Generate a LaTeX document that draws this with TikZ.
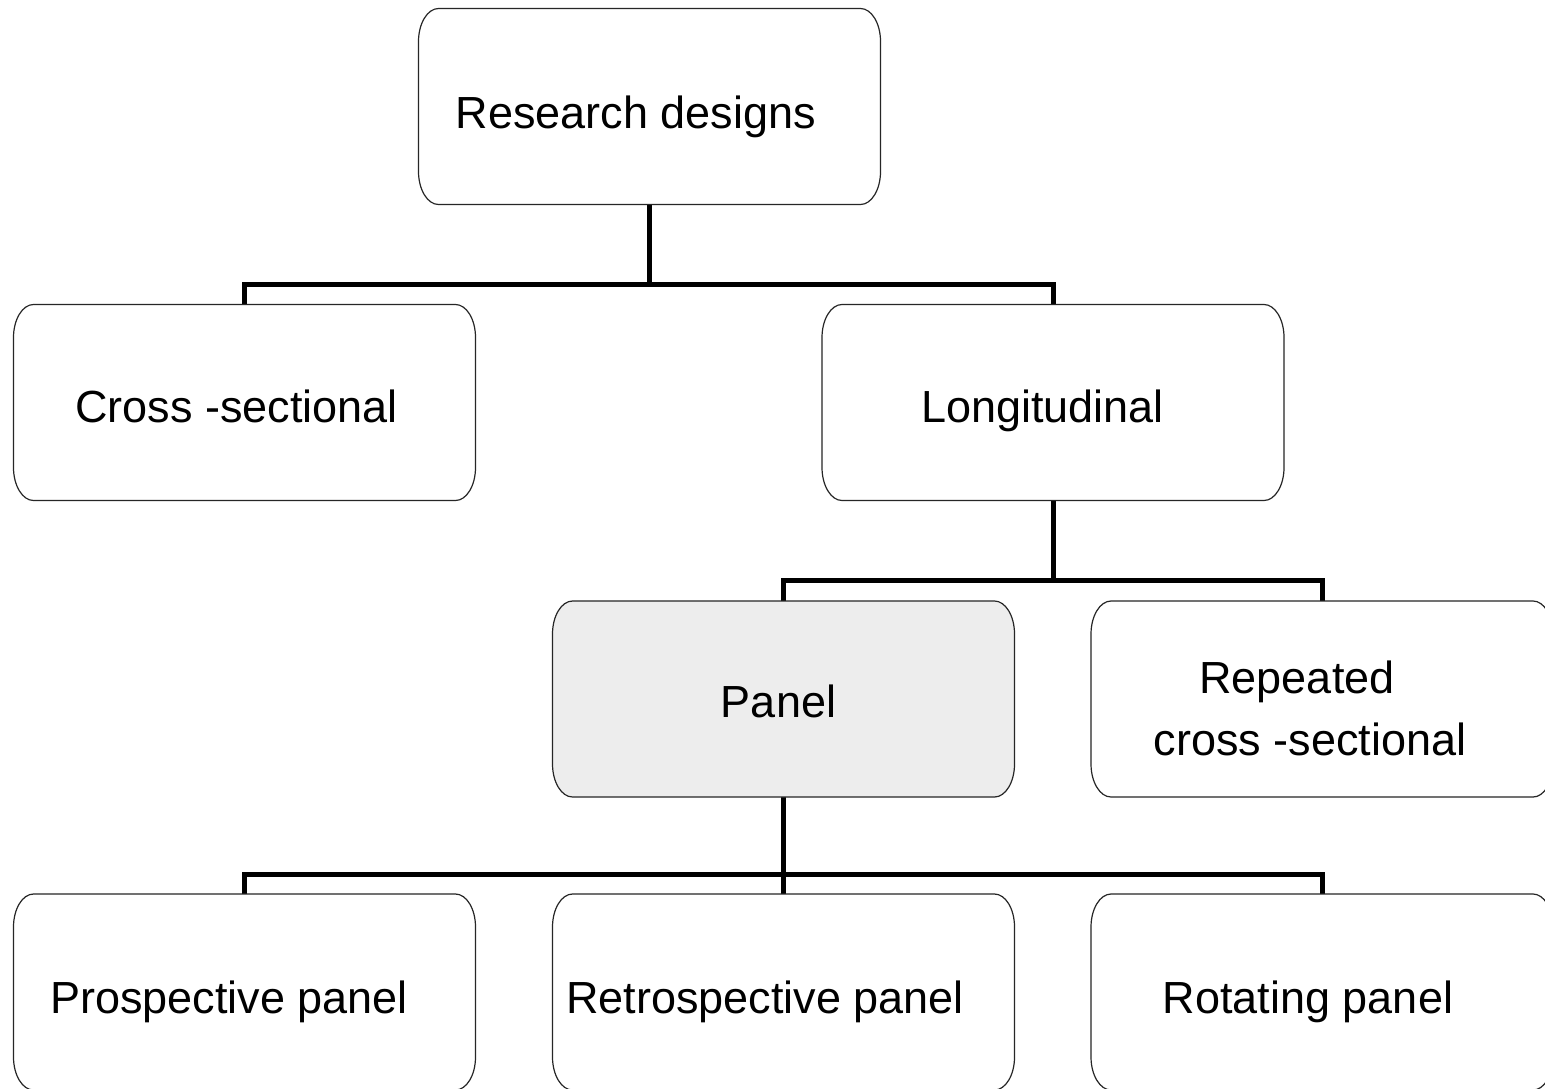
\documentclass[tikz,border=0pt]{standalone}
\usepackage{fontspec}
\setmainfont{Liberation Sans}
\newcommand\rbox[2]{%
\path[draw=black!85,line width=0.6pt,fill=#2]
 ([xshift=10pt]#1.north west) -- ([xshift=-10pt]#1.north east)
 .. controls ([xshift=-4.5pt]#1.north east) and ([yshift=-7.4pt]#1.north east) .. ([yshift=-16.5pt]#1.north east)
 -- ([yshift=16.5pt]#1.south east)
 .. controls ([yshift=7.4pt]#1.south east) and ([xshift=-4.5pt]#1.south east) .. ([xshift=-10pt]#1.south east)
 -- ([xshift=10pt]#1.south west)
 .. controls ([xshift=4.5pt]#1.south west) and ([yshift=7.4pt]#1.south west) .. ([yshift=16.5pt]#1.south west)
 -- ([yshift=-16.5pt]#1.north west)
 .. controls ([yshift=-7.4pt]#1.north west) and ([xshift=4.5pt]#1.north west) .. ([xshift=10pt]#1.north west) -- cycle;}
\begin{document}
\begin{tikzpicture}[x=0.5pt,y=-0.5pt,
  box/.style={rectangle, inner sep=0pt, outer sep=0pt,
    minimum width=231pt, minimum height=98pt},
  lbl/.style={inner sep=0pt, anchor=base, font=\fontsize{22.5}{27}\selectfont},
  conn/.style={line width=2.5pt, draw=black}]
\useasboundingbox (0,0) rectangle (1545,1088);
\clip (0,0) rectangle (1545,1088);
\fill[white] (0,0) rectangle (1545,1088);

% box frames (named nodes)
\node[box] (rd) at (649.5,106.5) {};
\node[box] (cs) at (244.5,402.5) {};
\node[box] (lo) at (1053,402.5) {};
\node[box] (pa) at (783.5,699) {};
\node[box] (rc) at (1322,699) {};
\node[box] (pp) at (244.5,992) {};
\node[box] (rp) at (783.5,992) {};
\node[box] (ro) at (1322,992) {};

% connectors
\coordinate (j1) at (649.5,284);
\coordinate (j2) at (1053,580);
\coordinate (j3) at (783.5,874);
\draw[conn] (rd.south) -- (j1);
\draw[conn] (cs.north) |- (j1) -| (lo.north);
\draw[conn] (lo.south) -- (j2);
\draw[conn] (pa.north) |- (j2) -| (rc.north);
\draw[conn] (pa.south) -- (j3);
\draw[conn] (pp.north) |- (j3) -| (ro.north);
\draw[conn] (rp.north) -- (j3);

% box outlines
\rbox{rd}{white}
\rbox{cs}{white}
\rbox{lo}{white}
\rbox{pa}{black!7}
\rbox{rc}{white}
\rbox{pp}{white}
\rbox{rp}{white}
\rbox{ro}{white}

% labels
\node[lbl] (trd) at (636,128) {Research designs};
\node[lbl] (tcs) at (236.5,422) {Cross -sectional};
\node[lbl] (tlo) at (1042.5,422) {Longitudinal};
\node[lbl] (tpa) at (778.5,717) {Panel};
\node[lbl] (trc1) at (1297,693) {Repeated};
\node[lbl] (trc2) at (1310,755) {cross -sectional};
\node[lbl] (tpp) at (229,1013) {Prospective panel};
\node[lbl] (trp) at (765,1013) {Retrospective panel};
\node[lbl] (tro) at (1308,1013) {Rotating panel};
\end{tikzpicture}
\end{document}
